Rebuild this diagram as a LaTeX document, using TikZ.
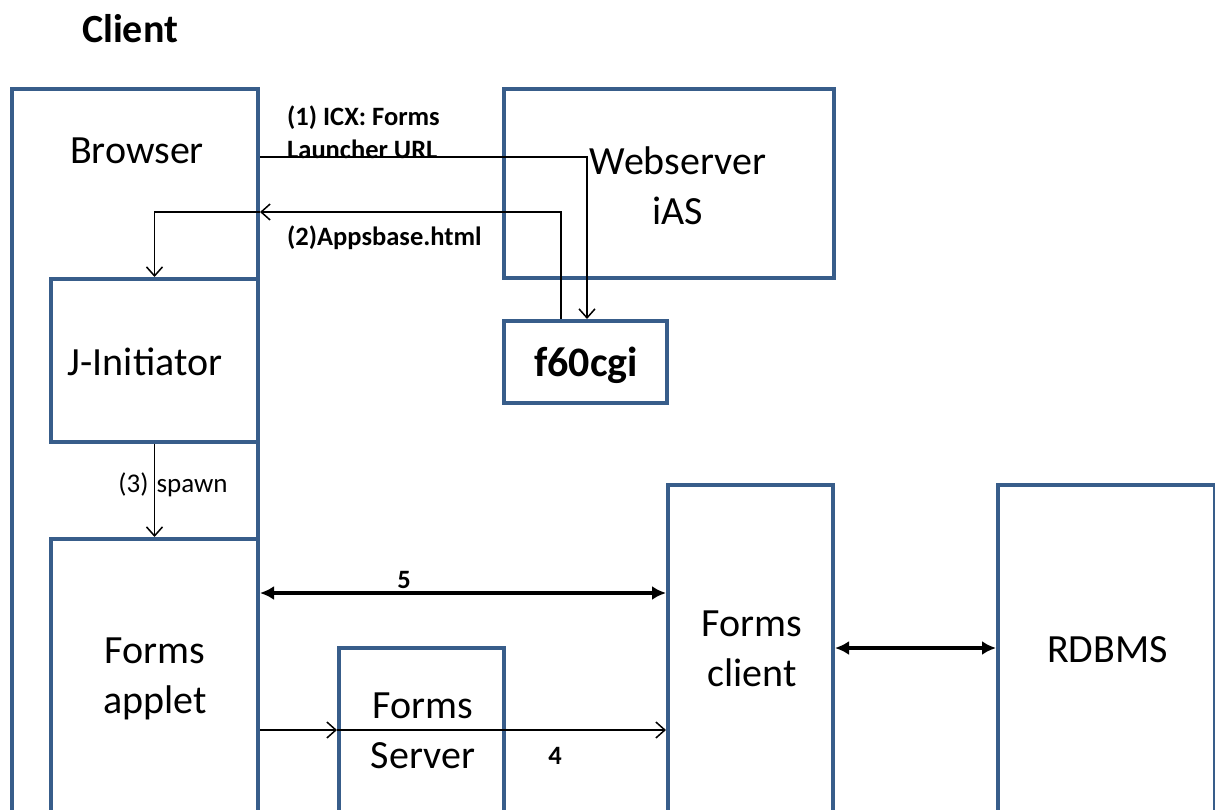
\documentclass[tikz,border=0pt]{standalone}
\usepackage{fontspec}
\setmainfont{Carlito}
\usetikzlibrary{arrows.meta}
\definecolor{boxblue}{RGB}{56,93,138}
\tikzset{
  box/.style={draw=boxblue, line width=4pt, inner sep=0pt, fill=none},
  bigtext/.style={font=\fontsize{40}{50}\selectfont, align=center, inner sep=0pt},
  lbl/.style={font=\bfseries\fontsize{26.5}{33}\selectfont, align=left, inner sep=0pt},
  thinarr/.style={line width=1.5pt, -{Straight Barb[length=9pt,width=16pt]}},
  thickarr/.style={line width=4pt, {Latex[length=14pt,width=14pt]}-{Latex[length=14pt,width=14pt]}},
}
\begin{document}
\begin{tikzpicture}[x=1pt,y=-1pt]
\useasboundingbox (0,0) rectangle (1215,809);
\clip (0,0) rectangle (1215,809);
% boxes
\node[box, minimum width=246pt, minimum height=751pt] (browser) at (135,464.5) {};
\node[box, minimum width=330pt, minimum height=189pt] (web) at (669,183.5) {};
\node[box, minimum width=163pt, minimum height=82pt] (f60) at (585.5,362) {};
\node[box, minimum width=207pt, minimum height=163pt] (jinit) at (154.5,360.5) {};
\node[box, minimum width=207pt, minimum height=301pt] (applet) at (154.5,689.5) {};
\node[box, minimum width=165pt, minimum height=192pt] (fserver) at (421.5,744) {};
\node[box, minimum width=165pt, minimum height=355pt] (fclient) at (750.5,662.5) {};
\node[box, minimum width=217pt, minimum height=355pt] (rdbms) at (1106.5,662.5) {};
% texts
\node[font=\bfseries\fontsize{40}{50}\selectfont, inner sep=0pt] (client) at (130,28.5) {Client};
\node[bigtext] (tbrowser) at (137,151) {Browser};
\node[bigtext] (tweb) at (678,186) {Webserver\\iAS};
\node[font=\bfseries\fontsize{42}{50}\selectfont, inner sep=0pt] (tf60) at (586,365) {f60cgi};
\node[bigtext] (tjinit) at (145,362) {J-Initiator};
\node[bigtext] (tapplet) at (155,678.5) {Forms\\applet};
\node[bigtext] (tfserver) at (423,730.5) {Forms\\Server};
\node[bigtext] (tfclient) at (752,648.5) {Forms\\client};
\node[bigtext] (trdbms) at (1107.5,649.5) {RDBMS};
% connector labels
\node[lbl, anchor=west] (l1) at (287,132) {(1) ICX: Forms\\Launcher URL};
\node[lbl, anchor=west] (l2) at (287,238) {(2)Appsbase.html};
\node[font=\fontsize{27}{30}\selectfont, inner sep=0pt] (l3) at (173,485) {(3)\hspace{0.3em}spawn};
\node[lbl] (l5) at (404,580) {5};
\node[lbl] (l4) at (555,756) {4};
% connectors
\draw[thinarr] (browser.north east |- 0,157) -| (f60.north -| 587,0);
\draw[thinarr] (f60.north -| 561,0) |- (browser.north east |- 0,212);
\draw[thinarr] (browser.north east |- 0,212) -| (jinit.north);
\draw[thinarr] (jinit.south) -- (applet.north);
\draw[thickarr] (applet.east |- 0,593) -- (fclient.west |- 0,593);
\draw[thinarr] (applet.east |- 0,730) -- (fserver.west |- 0,730);
\draw[thinarr] (fserver.west |- 0,730) -- (fclient.west |- 0,730);
\draw[thickarr] (fclient.east |- 0,648) -- (rdbms.west |- 0,648);
\end{tikzpicture}
\end{document}
